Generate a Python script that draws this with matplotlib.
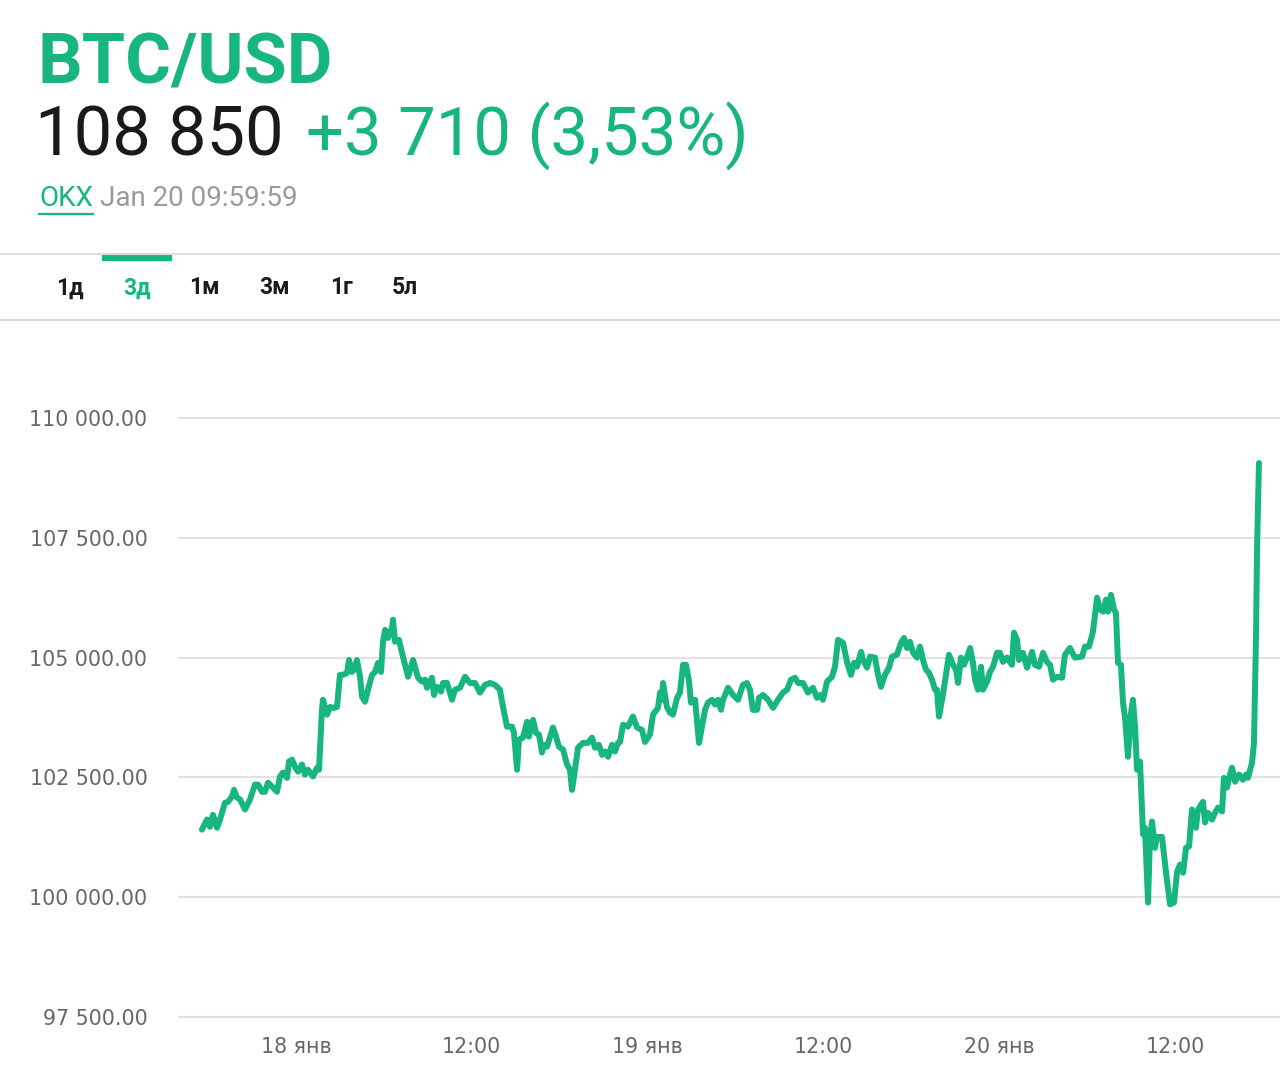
import matplotlib
matplotlib.use("Agg")
import matplotlib.pyplot as plt
from matplotlib.ticker import FuncFormatter, FixedLocator
from matplotlib.lines import Line2D
from matplotlib.patches import Rectangle

# ---- data (hours relative to 18 Jan 00:00, price in USD) ----
hours = [-6.42, -6.08, -5.87, -5.67, -5.39, -5.19, -4.85, -4.64, -4.37, -4.23, -4.03, -3.82, -3.48, -3.14,
         -2.80, -2.59, -2.32, -2.12, -1.91, -1.64, -1.30, -1.09, -0.89, -0.61, -0.48, -0.27, -0.07, 0.14,
         0.41, 0.61, 0.82, 1.16, 1.43, 1.57, 1.77, 1.84, 2.12, 2.32, 2.59, 2.80, 3.00, 3.21, 3.48, 3.62,
         3.82, 3.96, 4.16, 4.37, 4.51, 4.71, 4.91, 5.19, 5.39, 5.60, 5.80, 5.94, 6.08, 6.28, 6.55, 6.62,
         6.76, 7.03, 7.30, 7.65, 7.99, 8.33, 8.60, 8.81, 8.94, 9.28, 9.42, 9.62, 9.90, 10.03, 10.31, 10.65,
         10.85, 11.19, 11.54, 11.88, 12.22, 12.56, 12.90, 13.24, 13.58, 13.92, 14.13, 14.40, 14.74, 14.88,
         15.09, 15.22, 15.49, 15.77, 15.90, 16.18, 16.38, 16.59, 16.79, 16.93, 17.13, 17.54, 17.75, 17.95,
         18.23, 18.50, 18.70, 18.84, 19.04, 19.25, 19.59, 19.93, 20.20, 20.41, 20.68, 20.89, 21.09, 21.30,
         21.57, 21.77, 21.98, 22.12, 22.32, 22.66, 23.00, 23.28, 23.62, 23.82, 24.16, 24.37, 24.71, 24.85,
         24.98, 25.05, 25.32, 25.53, 25.73, 26.01, 26.21, 26.42, 26.62, 26.83, 26.96, 27.24, 27.51, 27.71,
         27.92, 28.12, 28.40, 28.60, 28.81, 29.01, 29.15, 29.49, 29.83, 30.17, 30.51, 30.78, 30.99, 31.19,
         31.47, 31.60, 31.88, 32.22, 32.56, 32.90, 33.24, 33.52, 33.79, 34.06, 34.27, 34.61, 34.95, 35.29,
         35.56, 35.77, 35.97, 36.25, 36.59, 36.79, 37.00, 37.34, 37.61, 37.88, 38.09, 38.29, 38.57, 38.70,
         38.98, 39.18, 39.52, 39.73, 39.93, 40.20, 40.48, 40.68, 41.02, 41.30, 41.50, 41.71, 41.91, 42.12,
         42.39, 42.59, 42.80, 43.00, 43.21, 43.41, 43.62, 43.75, 43.89, 44.10, 44.30, 44.57, 44.85, 45.05,
         45.19, 45.39, 45.60, 45.80, 46.01, 46.21, 46.35, 46.55, 46.76, 46.89, 47.17, 47.37, 47.58, 47.85,
         48.05, 48.26, 48.53, 48.87, 49.01, 49.22, 49.35, 49.62, 49.90, 50.24, 50.44, 50.72, 50.99, 51.26,
         51.47, 51.67, 51.95, 52.29, 52.49, 52.83, 53.17, 53.65, 53.86, 54.13, 54.40, 54.68, 54.88, 55.09,
         55.29, 55.43, 55.63, 55.84, 55.97, 56.11, 56.31, 56.45, 56.59, 56.79, 57.00, 57.13, 57.27, 57.41,
         57.61, 57.82, 57.95, 58.16, 58.29, 58.43, 58.63, 58.77, 59.11, 59.39, 59.66, 59.93, 60.14, 60.34,
         60.55, 60.75, 60.96, 61.16, 61.43, 61.57, 61.91, 62.05, 62.25, 62.53, 62.73, 62.94, 63.21, 63.34,
         63.55, 63.69, 63.89, 64.10, 64.37, 64.64, 64.85, 64.98, 65.26, 65.39, 65.53, 65.60, 65.73]

prices = [101410, 101620, 101470, 101720, 101450, 101620, 101970, 101990, 102100, 102240, 102080, 102040,
          101830, 102040, 102350, 102350, 102200, 102200, 102390, 102310, 102200, 102520, 102600, 102490,
          102830, 102870, 102720, 102620, 102770, 102560, 102660, 102520, 102700, 102660, 103910, 104120,
          103810, 103970, 103950, 103970, 104640, 104640, 104680, 104950, 104700, 104750, 104950, 104600,
          104180, 104080, 104330, 104640, 104700, 104890, 104700, 105330, 105580, 105410, 105620, 105790,
          105330, 105370, 105020, 104600, 104950, 104580, 104500, 104540, 104370, 104580, 104220, 104390,
          104290, 104470, 104470, 104120, 104330, 104370, 104600, 104470, 104470, 104270, 104430, 104470,
          104430, 104330, 103970, 103560, 103560, 103430, 102660, 103290, 103330, 103660, 103350, 103700,
          103430, 103390, 103020, 103180, 103140, 103540, 103350, 103140, 103080, 102770, 102660, 102240,
          102660, 103120, 103220, 103220, 103330, 103120, 103180, 102970, 103040, 102930, 103180, 103040,
          103220, 103240, 103600, 103560, 103770, 103540, 103490, 103240, 103390, 103810, 103950, 104270,
          104120, 104470, 103970, 103850, 103810, 104160, 104270, 104850, 104850, 104500, 104060, 104120,
          103220, 103560, 103910, 104060, 104120, 104020, 104120, 103910, 104120, 104370, 104220, 104120,
          104430, 104470, 104330, 103910, 103910, 104160, 104220, 104120, 103950, 104120, 104270, 104330,
          104540, 104580, 104470, 104470, 104270, 104370, 104160, 104220, 104120, 104500, 104600, 104810,
          105370, 105310, 104910, 104640, 104890, 104810, 105120, 104950, 104790, 105020, 105000, 104640,
          104390, 104640, 104790, 105020, 105060, 105310, 105410, 105200, 105330, 105100, 105000, 105230,
          104950, 104750, 104680, 104540, 104330, 104330, 103770, 104120, 104500, 105060, 104850, 104750,
          104470, 105000, 104850, 105000, 105200, 104890, 104540, 104330, 104810, 104330, 104500, 104700,
          104810, 105100, 105100, 104910, 105000, 104850, 105520, 105370, 104950, 105100, 104790, 105120,
          104850, 104810, 105100, 104910, 104850, 104540, 104600, 104580, 105060, 105200, 105000, 105020,
          105230, 105230, 105540, 106250, 106000, 105960, 106210, 105960, 106310, 106000, 105930, 104890,
          104850, 104060, 103750, 102930, 103850, 104120, 103560, 102660, 102830, 101310, 101450, 99890,
          101240, 101580, 101030, 101260, 101260, 100510, 99850, 99890, 100530, 100680, 100510, 101030,
          101060, 101830, 101450, 101830, 101990, 101560, 101760, 101620, 101760, 101870, 101790, 102490,
          102290, 102490, 102700, 102410, 102560, 102450, 102560, 102490, 102810, 103220, 105430, 107250,
          109060]

x_ticks = [0, 12, 24, 36, 48, 60]
x_labels = ["18 янв", "12:00", "19 янв", "12:00", "20 янв", "12:00"]
y_ticks = [97500, 100000, 102500, 105000, 107500, 110000]
tabs = ["1д", "3д", "1м", "3м", "1г", "5л"]

title = "BTC/USD"
last_price = "108 850"
change = "+3 710 (3,53%)"
source = "OKX"
stamp = "Jan 20 09:59:59"

GREEN = "#16B67E"
W, H = 1280, 1088

fig = plt.figure(figsize=(W / 100, H / 100), dpi=100)
fig.patch.set_facecolor("white")


def fx(x):
    return x / W


def fy(y):
    return 1 - y / H


# ---- header ----
fig.text(fx(38), fy(64), title, fontsize=50.5, fontweight="bold", color=GREEN,
         family="Roboto", va="center", ha="left")
fig.text(fx(35), fy(136), last_price, fontsize=49.5, color="#1a1a1a",
         family="Roboto", va="center", ha="left")
fig.text(fx(306), fy(136), change, fontsize=48.2, color=GREEN,
         family="Roboto", va="center", ha="left")
fig.text(fx(39), fy(198), source, fontsize=20, color=GREEN,
         family="Roboto", va="center", ha="left")
fig.add_artist(Line2D([fx(39), fx(93)], [fy(214), fy(214)], color=GREEN, lw=1.6,
                      transform=fig.transFigure))
fig.text(fx(100), fy(198), stamp, fontsize=20, color="#9a9a9a",
         family="Roboto", va="center", ha="left")

# separators and tabs
for yy in (254, 320):
    fig.add_artist(Line2D([0, 1], [fy(yy), fy(yy)], color="#dcdcdc", lw=1.5,
                          transform=fig.transFigure))
fig.add_artist(Rectangle((fx(102), fy(260)), fx(69), 6 / H, color=GREEN,
                         transform=fig.transFigure))
tab_x = [70, 137, 204, 275, 341, 405]
for i, (lab, xx) in enumerate(zip(tabs, tab_x)):
    fig.text(fx(xx), fy(288), lab, fontsize=16.5, fontweight="bold",
             color=GREEN if i == 1 else "#1a1a1a", family="Roboto",
             va="center", ha="center")

# ---- chart ----
ax_top, ax_bot, ax_left = 340, 1030, 178
ax = fig.add_axes([fx(ax_left), fy(ax_bot), 1 - fx(ax_left), (ax_bot - ax_top) / H])
ppx = 12500 / 599.0
ax.set_ylim(97500 - (ax_bot - 1017) * ppx, 110000 + (418 - ax_top) * ppx)
hpx = 1 / 14.65
ax.set_xlim((ax_left - 296) * hpx, (W - 296) * hpx)

ax.plot(hours, prices, color=GREEN, lw=4.3, solid_joinstyle="round",
        solid_capstyle="round", zorder=3)

ax.yaxis.set_major_locator(FixedLocator(y_ticks))
ax.yaxis.set_major_formatter(FuncFormatter(lambda v, p: f"{v:,.2f}".replace(",", " ")))
ax.set_xticks(x_ticks)
ax.set_xticklabels(x_labels)
ax.grid(axis="y", color="#e2e2e2", lw=1.5)
ax.set_axisbelow(True)
for s in ax.spines.values():
    s.set_visible(False)
ax.tick_params(axis="y", length=0, pad=22, labelsize=14.8, labelcolor="#666666")
ax.tick_params(axis="x", length=0, pad=5, labelsize=14.8, labelcolor="#666666")
for lab in ax.get_yticklabels() + ax.get_xticklabels():
    lab.set_family("DejaVu Sans")
ax.set_facecolor("white")

fig.savefig("out.png", dpi=100, facecolor="white")
